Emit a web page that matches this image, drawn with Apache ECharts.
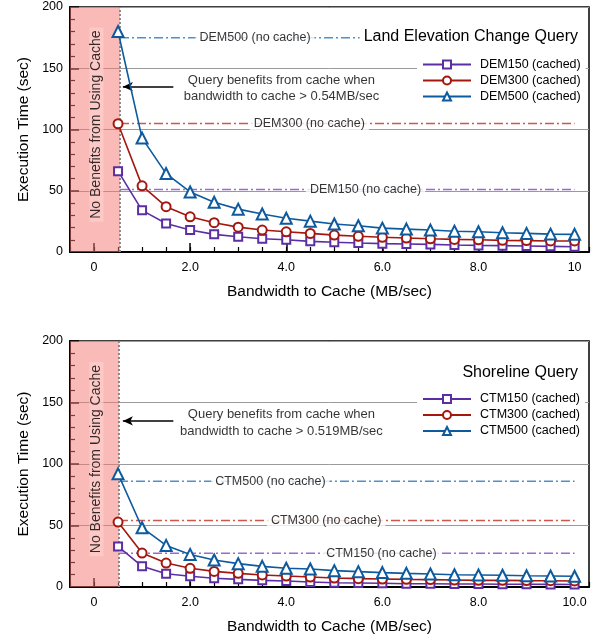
<!DOCTYPE html>
<html>
<head>
<meta charset="utf-8">
<script src="https://cdn.jsdelivr.net/npm/echarts@6/dist/echarts.min.js"></script>
<style>
  html, body { margin: 0; padding: 0; background: #fff; }
  #main { width: 595px; height: 643px; }
</style>
</head>
<body>
<div id="main"></div>
<script>
var bandwidth = [0.5, 1, 1.5, 2, 2.5, 3, 3.5, 4, 4.5, 5, 5.5, 6, 6.5, 7, 7.5, 8, 8.5, 9, 9.5, 10];

// Land Elevation Change Query
var dem150 = [66, 34, 23.3, 17.9, 14.4, 12.5, 10.8, 10, 8.7, 7.9, 7.3, 6.8, 6.5, 6.2, 5.7, 5.4, 5.2, 4.9, 4.6, 4.3];
var dem300 = [104.7, 54, 37, 28.7, 23.9, 20.3, 17.9, 16.5, 15.2, 13.8, 12.8, 12, 11.4, 10.8, 10.3, 10, 9.5, 9.3, 9, 9];
var dem500 = [180, 93, 64, 49, 40.6, 35, 31, 27.6, 25.2, 22.8, 21.4, 19.5, 18.7, 17.9, 17, 16.5, 15.7, 15.2, 14.6, 14.4];
var demNoCache = [51, 105, 175];
var demCutoff = 0.54;

// Shoreline Query
var ctm150 = [33, 16.8, 10.8, 8.7, 7.1, 6.2, 5.4, 4.9, 4.1, 3.5, 3.3, 3, 2.7, 2.7, 2.4, 2.4, 2.2, 2.2, 2.1, 2];
var ctm300 = [52.8, 27.6, 19.5, 15.2, 12.7, 11.1, 9.8, 8.9, 8.1, 7.3, 6.8, 6.5, 6.2, 6, 5.7, 5.4, 5.4, 5.2, 5.1, 4.9];
var ctm500 = [92, 48.2, 33.8, 26.5, 21.9, 19, 16.8, 15.2, 14.6, 13.3, 12.5, 11.7, 11.1, 10.6, 10, 9.8, 9.5, 9.2, 9, 8.7];
var ctmNoCache = [27.5, 54, 86];
var ctmCutoff = 0.519;

var xTicks = [0, 2, 4, 6, 8, 10];
var xLabelsTop = ['0', '2.0', '4.0', '6.0', '8.0', '10'];
var xLabelsBottom = ['0', '2.0', '4.0', '6.0', '8.0', '10.0'];

var FONT = '"Liberation Sans", Arial, Helvetica, sans-serif';
var cachedColors = ['#5b2ea3', '#a3170f', '#0d5a9e'];
var noCacheColors = ['#9a6bcd', '#cf564c', '#4b92cb'];
var symbols = ['emptyRect', 'emptyCircle', 'emptyTriangle'];
var symbolSizes = [8, 9, 11];

function pairs(ys) {
    return bandwidth.map(function (x, i) { return [x, ys[i]]; });
}

var myChart = echarts.init(document.getElementById('main'), null, { renderer: 'canvas' });

function gridAxes(gridIndex, labels) {
    var xMain = {
        type: 'value', gridIndex: gridIndex, position: 'bottom', min: -0.5, max: 10.3, interval: 0.5,
        axisLine: { onZero: false, lineStyle: { color: '#000', width: 2 } },
        axisTick: { inside: true, length: 5, lineStyle: { color: '#000', width: 1.2 } },
        axisLabel: { show: false },
        splitLine: { show: false }
    };
    var xMajor = {
        type: 'value', gridIndex: gridIndex, position: 'bottom', offset: 0, min: -0.5, max: 10.3,
        name: 'Bandwidth to Cache (MB/sec)', nameLocation: 'middle', nameGap: 32,
        nameTextStyle: { fontSize: 15.5, color: '#000', fontFamily: FONT },
        axisLine: { show: false, onZero: false },
        axisTick: { inside: true, length: 9, customValues: xTicks, lineStyle: { color: '#000', width: 1.5 } },
        axisLabel: {
            customValues: xTicks, margin: 9, fontSize: 12.5, color: '#000', fontFamily: FONT,
            formatter: function (v) { return labels[xTicks.indexOf(v)]; }
        },
        splitLine: { show: false }
    };
    var y = {
        type: 'value', gridIndex: gridIndex, position: 'left', min: 0, max: 200, interval: 50,
        name: 'Execution Time (sec)', nameLocation: 'middle', nameGap: 38, nameRotate: 90,
        nameTextStyle: { fontSize: 15.5, color: '#000', fontFamily: FONT },
        axisLine: { show: true, onZero: false, lineStyle: { color: '#000', width: 2 } },
        axisTick: { inside: true, length: 9, lineStyle: { color: '#000', width: 1.5 } },
        minorTick: { show: true, splitNumber: 5, length: 5, lineStyle: { color: '#000', width: 1.2 } },
        axisLabel: { margin: 7, fontSize: 12.5, color: '#000', fontFamily: FONT },
        splitLine: { show: true, lineStyle: { color: '#9a9a9a', width: 1 } }
    };
    return { x: [xMain, xMajor], y: y };
}

function buildSeries(xIdx, yIdx, names, cached, noCache, cutoff, labelX, noteText) {
    var list = [];
    // no-cache reference lines
    noCache.forEach(function (v, i) {
        list.push({
            type: 'line', xAxisIndex: xIdx, yAxisIndex: yIdx, silent: true,
            symbol: 'none', z: 2,
            lineStyle: { color: noCacheColors[i], width: 1.5, type: [9, 3, 2, 3] },
            data: [[cutoff, v], [10, v]]
        });
    });
    // cached curves
    cached.forEach(function (ys, i) {
        list.push({
            name: names[i] + ' (cached)', type: 'line', xAxisIndex: xIdx, yAxisIndex: yIdx,
            symbol: symbols[i], symbolSize: symbolSizes[i], z: 5,
            color: cachedColors[i],
            lineStyle: { color: cachedColors[i], width: 1.6 },
            itemStyle: { color: cachedColors[i], borderColor: cachedColors[i], borderWidth: 1.5 },
            data: pairs(ys)
        });
    });
    // labels for no-cache lines, shaded region, cutoff marker, annotation
    list.push({
        type: 'scatter', xAxisIndex: xIdx, yAxisIndex: yIdx, silent: true, z: 4,
        symbolSize: 1, itemStyle: { color: 'rgba(0,0,0,0)' },
        label: {
            show: true, position: 'inside', formatter: '{b}', color: '#000',
            fontSize: 12.5, fontFamily: FONT, backgroundColor: '#fff', padding: [1, 4]
        },
        data: noCache.map(function (v, i) {
            return { name: names[i] + ' (no cache)', value: [labelX[i], v] };
        }).concat([
            { name: 'No Benefits from Using Cache', value: [0.05, 104],
              label: { rotate: 90, fontSize: 14, backgroundColor: '#fccdc9', padding: [0, 3] } },
            { name: noteText, value: [3.9, 133.5],
              label: { fontSize: 13, lineHeight: 16.5, align: 'center', backgroundColor: 'transparent' } }
        ]),
        markArea: {
            silent: true,
            itemStyle: { color: 'rgba(246,118,112,0.5)' },
            data: [[{ coord: [-0.5, 0] }, { coord: [cutoff, 200] }]]
        },
        markLine: {
            silent: true, symbol: ['none', 'none'], label: { show: false },
            data: [
                [{ coord: [cutoff, 0], lineStyle: { color: '#8a8a8a', width: 2, type: [2, 2] } },
                 { coord: [cutoff, 200] }],
                [{ coord: [1.65, 135], symbol: 'none', lineStyle: { color: '#000', width: 1.5, type: 'solid' } },
                 { coord: [0.6, 135], symbol: 'arrow', symbolSize: [7, 10] }]
            ]
        }
    });
    return list;
}

var topAxes = gridAxes(0, xLabelsTop);
var bottomAxes = gridAxes(1, xLabelsBottom);

var legendBase = {
    orient: 'vertical', left: 417, itemWidth: 48, itemHeight: 10, itemGap: 3,
    backgroundColor: '#fff', padding: [2, 5],
    textStyle: { fontSize: 12.5, color: '#000', fontFamily: FONT, padding: [0, 0, 0, 4] }
};

var option = {
    backgroundColor: '#fff',
    animation: false,
    textStyle: { fontFamily: FONT },
    title: [
        { text: 'Land Elevation Change Query', right: 13, top: 27, backgroundColor: '#fff', padding: [2, 4],
          textStyle: { fontSize: 16, fontWeight: 'normal', color: '#000', fontFamily: FONT } },
        { text: 'Shoreline Query', right: 13, top: 363, backgroundColor: '#fff', padding: [2, 4],
          textStyle: { fontSize: 16, fontWeight: 'normal', color: '#000', fontFamily: FONT } }
    ],
    legend: [
        Object.assign({ top: 56, data: ['DEM150 (cached)', 'DEM300 (cached)', 'DEM500 (cached)'] }, legendBase),
        Object.assign({ top: 390.5, data: ['CTM150 (cached)', 'CTM300 (cached)', 'CTM500 (cached)'] }, legendBase)
    ],
    grid: [
        { left: 70, top: 7, width: 519, height: 245, show: true, borderColor: '#000', borderWidth: 1.5, backgroundColor: '#fff' },
        { left: 70, top: 341, width: 519, height: 246, show: true, borderColor: '#000', borderWidth: 1.5, backgroundColor: '#fff' }
    ],
    xAxis: topAxes.x.concat(bottomAxes.x),
    yAxis: [topAxes.y, bottomAxes.y],
    series: buildSeries(0, 0, ['DEM150', 'DEM300', 'DEM500'], [dem150, dem300, dem500], demNoCache, demCutoff,
            [5.65, 4.48, 3.35], 'Query benefits from cache when\nbandwidth to cache > 0.54MB/sec')
        .concat(buildSeries(2, 1, ['CTM150', 'CTM300', 'CTM500'], [ctm150, ctm300, ctm500], ctmNoCache, ctmCutoff,
            [5.98, 4.83, 3.67], 'Query benefits from cache when\nbandwidth to cache > 0.519MB/sec'))
};
myChart.setOption(option);
</script>
</body>
</html>
